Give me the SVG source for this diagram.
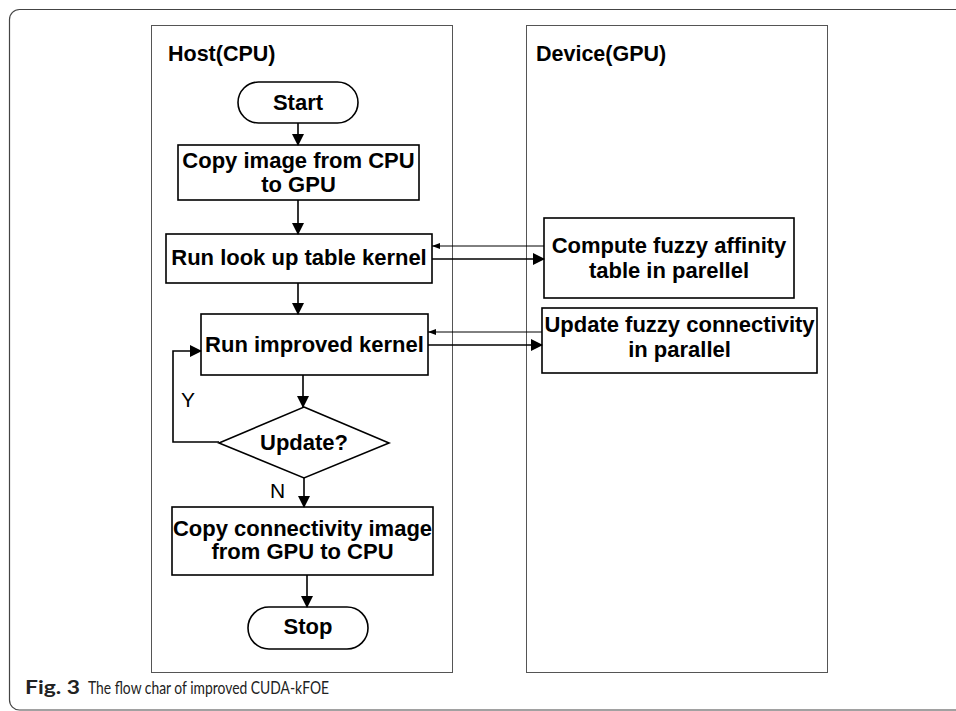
<svg xmlns="http://www.w3.org/2000/svg" width="956" height="711" viewBox="0 0 956 711">
<style>
.frame{fill:none;stroke:#444;stroke-width:1.2}
.lane{fill:none;stroke:#555;stroke-width:1}
.box{fill:#fff;stroke:#000;stroke-width:1.6}
.t{font-family:"Liberation Sans",Arial,sans-serif;font-weight:bold;font-size:22px;fill:#000;text-anchor:middle}
.h{font-family:"Liberation Sans",Arial,sans-serif;font-weight:bold;font-size:21.5px;fill:#000}
.lbl{font-family:"Liberation Sans",Arial,sans-serif;font-size:21px;fill:#000}
.cap{font-family:Lato,"Noto Sans",sans-serif;font-size:18px;fill:#222}
.ln{fill:none;stroke:#000;stroke-width:1.6}
.thin{fill:none;stroke:#000;stroke-width:1}
</style>
<defs>
<marker id="ah" markerWidth="12" markerHeight="12" refX="11" refY="6" orient="auto" markerUnits="userSpaceOnUse" viewBox="0 0 12 12">
<path d="M0,0 L12,6 L0,12 Z" fill="#000"/>
</marker>
<marker id="ahs" markerWidth="8" markerHeight="6" refX="8" refY="3" orient="auto" markerUnits="userSpaceOnUse" viewBox="0 0 8 6">
<path d="M0,0 L8,3 L0,6 Z" fill="#000"/>
</marker>
</defs>
<rect width="956" height="711" fill="#fff"/>
<path class="frame" d="M956,9.5 H19.5 A10,10 0 0 0 9.5,19.5 V700 A10,10 0 0 0 19.5,710 H956"/>
<g id="host-lane">
<rect class="lane" x="151.5" y="25.5" width="301" height="647"/>
<text class="h" x="168" y="61">Host(CPU)</text>
</g>
<g id="device-lane">
<rect class="lane" x="526.5" y="25.5" width="301" height="647"/>
<text class="h" x="536" y="61">Device(GPU)</text>
</g>
<g id="start">
<rect class="box" x="238" y="82" width="120" height="41" rx="20.5"/>
<text class="t" x="298" y="110">Start</text>
</g>
<g id="copy-in">
<rect class="box" x="178" y="145" width="241" height="55"/>
<text class="t" x="298.5" y="168">Copy image from CPU</text>
<text class="t" x="298.5" y="192">to GPU</text>
</g>
<g id="lookup">
<rect class="box" x="166" y="234" width="266" height="49"/>
<text class="t" x="299" y="265">Run look up table kernel</text>
</g>
<g id="improved">
<rect class="box" x="201" y="314" width="227" height="61"/>
<text class="t" x="314.5" y="352">Run improved kernel</text>
</g>
<g id="update">
<polygon class="box" points="304,407 389,443 304,478 219,443"/>
<text class="t" x="304" y="450">Update?</text>
</g>
<g id="copy-out">
<rect class="box" x="172" y="507" width="261" height="68"/>
<text class="t" x="302.5" y="536">Copy connectivity image</text>
<text class="t" x="302.5" y="559">from GPU to CPU</text>
</g>
<g id="stop">
<rect class="box" x="248" y="607" width="120" height="42" rx="21"/>
<text class="t" x="308" y="634">Stop</text>
</g>
<g id="affinity">
<rect class="box" x="544" y="218" width="250" height="80"/>
<text class="t" x="669" y="253">Compute fuzzy affinity</text>
<text class="t" x="669" y="278">table in parellel</text>
</g>
<g id="connectivity">
<rect class="box" x="542" y="308" width="275" height="65"/>
<text class="t" x="679.5" y="332">Update fuzzy connectivity</text>
<text class="t" x="679.5" y="357">in parallel</text>
</g>
<g id="connectors">
<line class="ln" x1="298" y1="123" x2="298" y2="145" marker-end="url(#ah)"/>
<line class="ln" x1="298" y1="200" x2="298" y2="234" marker-end="url(#ah)"/>
<line class="ln" x1="298" y1="283" x2="298" y2="314" marker-end="url(#ah)"/>
<line class="ln" x1="303" y1="375" x2="303" y2="407" marker-end="url(#ah)"/>
<line class="ln" x1="304" y1="478" x2="304" y2="507" marker-end="url(#ah)"/>
<line class="ln" x1="307" y1="575" x2="307" y2="607" marker-end="url(#ah)"/>
<polyline class="ln" points="219,442 173,442 173,351 201,351" marker-end="url(#ah)"/>
<line class="thin" x1="544" y1="246" x2="432" y2="246" marker-end="url(#ahs)"/>
<line class="ln" x1="432" y1="259" x2="544" y2="259" marker-end="url(#ah)"/>
<line class="thin" x1="542" y1="332" x2="428" y2="332" marker-end="url(#ahs)"/>
<line class="ln" x1="428" y1="345" x2="542" y2="345" marker-end="url(#ah)"/>
<text class="lbl" x="181" y="407">Y</text>
<text class="lbl" x="270" y="498">N</text>
</g>
<text class="cap" x="25" y="694" font-weight="bold" font-size="19" textLength="55" lengthAdjust="spacingAndGlyphs">Fig. 3</text>
<text class="cap" x="88" y="694" textLength="241" lengthAdjust="spacingAndGlyphs">The flow char of improved CUDA-kFOE</text>
</svg>
